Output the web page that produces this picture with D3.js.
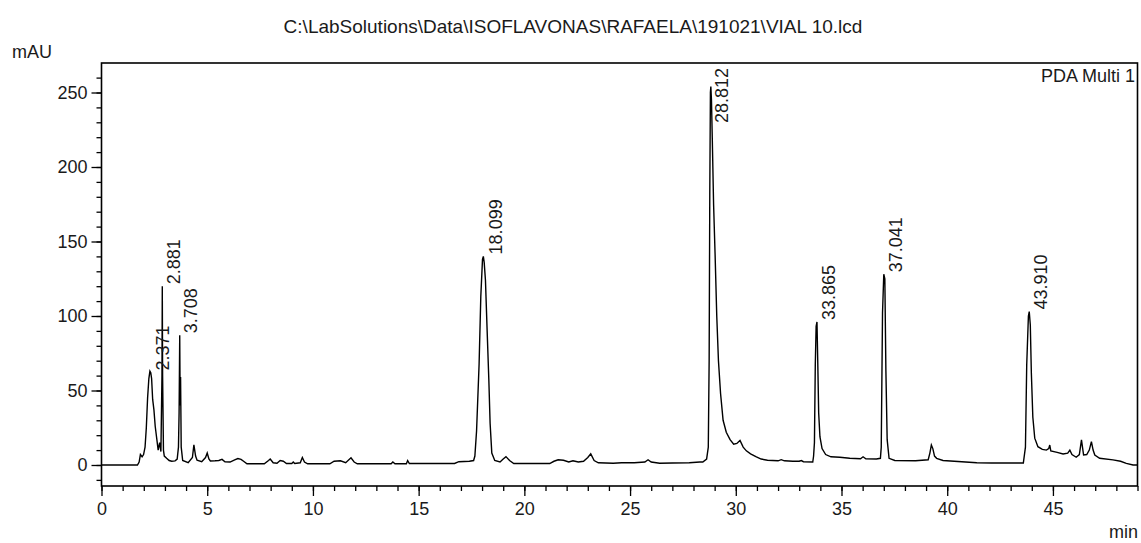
<!DOCTYPE html>
<html>
<head>
<meta charset="utf-8">
<script src="https://cdn.jsdelivr.net/npm/d3@7"></script>
<style>
  html, body { margin: 0; padding: 0; background: #fff; }
  svg { display: block; font-family: "Liberation Sans", Arial, sans-serif; }
</style>
</head>
<body>
<script>
// Chromatogram trace: retention time (min) and detector response (mAU)
const traceTime = [
  0, 1.70, 1.78, 1.84, 1.92, 1.99, 2.06, 2.12, 2.18, 2.24, 2.29, 2.33, 2.37, 2.42, 2.48, 2.54,
  2.61, 2.68, 2.75, 2.81, 2.86, 2.875, 2.89, 2.93, 2.97, 3.08, 3.20, 3.32, 3.48, 3.58, 3.64,
  3.67, 3.70, 3.72, 3.74, 3.77, 3.84, 4.10, 4.30, 4.37, 4.45, 4.52, 4.74, 4.92, 5.00, 5.08,
  5.15, 5.37, 5.55, 5.70, 5.84, 6.08, 6.30, 6.45, 6.60, 6.72, 6.88, 7.70, 7.90, 7.98, 8.12,
  8.30, 8.45, 8.60, 8.75, 9.00, 9.07, 9.14, 9.40, 9.50, 9.60, 9.75, 10.80, 11.00, 11.30, 11.55,
  11.80, 11.95, 12.10, 13.70, 13.78, 13.88, 14.42, 14.48, 14.56, 16.70, 16.90, 17.40, 17.60,
  17.66, 17.74, 17.86, 17.94, 18.02, 18.06, 18.10, 18.16, 18.24, 18.32, 18.38, 18.46, 18.60,
  18.85, 19.00, 19.13, 19.30, 19.50, 21.20, 21.40, 21.60, 21.85, 22.10, 22.30, 22.55, 22.80,
  23.00, 23.14, 23.30, 23.50, 24.20, 24.60, 25.20, 25.70, 25.85, 26.00, 26.40, 27.00, 27.80,
  28.30, 28.44, 28.62, 28.70, 28.74, 28.77, 28.80, 28.82, 28.85, 28.89, 28.95, 29.02, 29.10,
  29.18, 29.28, 29.40, 29.55, 29.73, 29.90, 30.05, 30.20, 30.35, 30.50, 30.70, 30.95, 31.20,
  31.50, 32.00, 32.15, 32.30, 32.70, 33.00, 33.10, 33.20, 33.64, 33.68, 33.72, 33.76, 33.80,
  33.84, 33.88, 33.92, 33.98, 34.08, 34.25, 34.50, 34.92, 35.39, 35.90, 36.02, 36.15, 36.65,
  36.84, 36.88, 36.94, 37.00, 37.05, 37.10, 37.16, 37.25, 37.52, 38.50, 39.10, 39.18, 39.25,
  39.32, 39.40, 39.50, 39.80, 41.40, 42.10, 43.60, 43.70, 43.76, 43.84, 43.88, 43.93, 43.98,
  44.05, 44.14, 44.29, 44.50, 44.69, 44.80, 44.85, 44.90, 45.20, 45.48, 45.70, 45.80, 45.90,
  46.10, 46.25, 46.35, 46.45, 46.60, 46.72, 46.82, 46.90, 46.98, 47.21, 47.84, 48.20, 48.47,
  48.79, 49.0
];
const traceMAU = [
  0, 0, 2, 7, 5.5, 7, 12, 25, 45, 58, 63, 62, 58, 44, 37, 26,
  18, 10, 15, 9, 60, 120, 60, 10, 6, 4.5, 3, 2.5, 2.8, 4, 12,
  35, 87, 40, 59, 12, 3, 1.5, 5, 13.5, 6, 3.2, 2.2, 5, 8, 4,
  2.7, 2.8, 3, 3.8, 2.2, 2, 3.5, 4.3, 3.8, 2.5, 0.8, 0.8, 3, 4, 1.5,
  1.2, 3, 2.5, 1, 1, 2, 1, 1.5, 5, 2, 0.8, 0.8, 2.5, 2.8, 1.5,
  4.8, 2, 0.8, 0.8, 2, 0.8, 0.8, 3, 1, 1, 2.2, 2.5, 3,
  6, 23, 68, 113, 138, 140, 136, 124, 90, 57, 28, 8, 3,
  2, 4, 5.6, 3, 1, 1, 2.5, 3.5, 3.2, 2, 2.8, 2, 2.5,
  5, 7.5, 3, 1.5, 1.2, 1.5, 1.5, 2, 3.5, 2, 1.2, 1.3, 1.5,
  2, 2, 4, 12, 70, 182, 250, 254, 245, 218, 175, 142, 100,
  70, 48, 30, 22, 17, 14, 14.5, 16.5, 12, 9.5, 7.5, 5.6, 4,
  3.2, 2.8, 3.6, 2.8, 2.5, 2.5, 3, 2.2, 2, 6, 15, 67, 93,
  96, 67, 35, 19, 11, 7, 5.5, 5.2, 4.5, 4.2, 5.5, 4.2, 4,
  4.5, 12, 102, 128, 125, 63, 17, 4.5, 3, 2.8, 3.5, 8, 13.4,
  11, 6, 4.5, 3, 1.5, 1.3, 1.3, 12, 67, 100, 103, 94, 61.5,
  32, 18, 12.3, 10.5, 10, 11, 13.4, 9.5, 8.5, 7.4, 8, 10, 7,
  5.2, 7, 16.8, 6.7, 7, 10, 15.7, 10, 6.7, 4.5, 3.4, 2.5, 1.1,
  0, 0
];

// Integrated peaks (retention times, min)
const peakTimes = [2.371, 2.881, 3.708, 18.099, 28.812, 33.865, 37.041, 43.910];

// Axis ticks
const xMajorTicks = [0, 5, 10, 15, 20, 25, 30, 35, 40, 45];
const xMinorTicks = d3.range(0, 50, 1);
const yMajorTicks = [0, 50, 100, 150, 200, 250];
const yMinorTicks = d3.range(-10, 270, 10);

const titleText = "C:\\LabSolutions\\Data\\ISOFLAVONAS\\RAFAELA\\191021\\VIAL 10.lcd";
const yUnit = "mAU";
const xUnit = "min";
const channelName = "PDA Multi 1";

const W = 1141, H = 543;
const plot = { left: 101.5, right: 1137.5, top: 63, bottom: 486 };
const FONT = 18;

const svg = d3.select("body").append("svg")
  .attr("width", W).attr("height", H);

const x = d3.scaleLinear().domain([0, 49]).range([plot.left, plot.right]);
const y = d3.scaleLinear().domain([-14.1, 269.8]).range([plot.bottom, plot.top]);

// Minor and major ticks on both axes
function styleAxis(g) {
  g.select(".domain").remove();
  g.selectAll("line").attr("stroke", "#000").attr("stroke-width", 1.3);
  g.selectAll("text").attr("fill", "#1a1a1a").attr("font-size", FONT)
    .attr("font-family", "Liberation Sans, Arial, sans-serif");
}

svg.append("g").attr("transform", `translate(0,${plot.bottom})`)
  .call(d3.axisBottom(x).tickValues(xMinorTicks).tickSize(5).tickFormat(""))
  .call(styleAxis);
svg.append("g").attr("transform", `translate(0,${plot.bottom})`)
  .call(d3.axisBottom(x).tickValues(xMajorTicks).tickSize(10).tickPadding(6).tickFormat(d3.format("d")))
  .call(styleAxis);

svg.append("g").attr("transform", `translate(${plot.left},0)`)
  .call(d3.axisLeft(y).tickValues(yMinorTicks).tickSize(5).tickFormat(""))
  .call(styleAxis);
svg.append("g").attr("transform", `translate(${plot.left},0)`)
  .call(d3.axisLeft(y).tickValues(yMajorTicks).tickSize(10).tickPadding(4).tickFormat(d3.format("d")))
  .call(styleAxis);

// Plot frame
svg.append("rect")
  .attr("x", plot.left).attr("y", plot.top)
  .attr("width", plot.right - plot.left).attr("height", plot.bottom - plot.top)
  .attr("fill", "none").attr("stroke", "#000").attr("stroke-width", 1.6);

// Signal trace
svg.append("clipPath").attr("id", "plotClip")
  .append("rect")
  .attr("x", plot.left).attr("y", plot.top)
  .attr("width", plot.right - plot.left).attr("height", plot.bottom - plot.top);

const points = traceTime.map((t, i) => [t, traceMAU[i]]);
const line = d3.line().x(d => x(d[0])).y(d => y(d[1]));

svg.append("path")
  .datum(points)
  .attr("clip-path", "url(#plotClip)")
  .attr("fill", "none")
  .attr("stroke", "#000")
  .attr("stroke-width", 1.4)
  .attr("stroke-linejoin", "miter")
  .attr("d", line);

// Retention-time labels above each peak apex, kept inside the frame
const labels = svg.append("g").attr("font-size", FONT).attr("fill", "#1a1a1a");
peakTimes.forEach(t => {
  const near = points.filter(p => Math.abs(p[0] - t) <= 0.06);
  const apex = d3.max(near, p => p[1]);
  const lbl = labels.append("text").text(t.toFixed(3));
  const len = lbl.node().getComputedTextLength();
  const yStart = Math.max(y(apex) - 2, plot.top + 5 + len);
  lbl.attr("transform", `translate(${x(t) + 17.5},${yStart}) rotate(-90)`);
});

// Titles and units
svg.append("text").attr("x", 573).attr("y", 33)
  .attr("text-anchor", "middle").attr("font-size", 19).attr("fill", "#1a1a1a")
  .text(titleText);
svg.append("text").attr("x", 12).attr("y", 58)
  .attr("font-size", FONT).attr("fill", "#1a1a1a").text(yUnit);
svg.append("text").attr("x", 1135).attr("y", 82)
  .attr("text-anchor", "end").attr("font-size", FONT).attr("fill", "#1a1a1a").text(channelName);
svg.append("text").attr("x", 1138).attr("y", 538)
  .attr("text-anchor", "end").attr("font-size", FONT).attr("fill", "#1a1a1a").text(xUnit);
</script>
</body>
</html>
